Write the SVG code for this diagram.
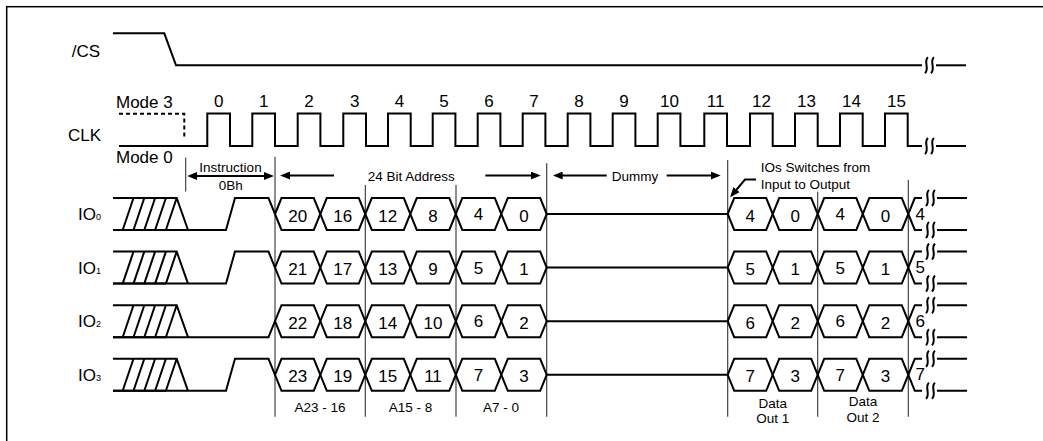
<svg xmlns="http://www.w3.org/2000/svg" xmlns:xlink="http://www.w3.org/1999/xlink" width="1043" height="441" viewBox="0 0 1043 441">
<style>
.sig{fill:none;stroke:#000;stroke-width:2;stroke-linejoin:miter}
.thin{fill:none;stroke:#333;stroke-width:1.1}
.arr{fill:none;stroke:#000;stroke-width:2}
.lbl{font-family:"Liberation Sans",Arial,sans-serif;font-size:17px;fill:#000}
.sm{font-family:"Liberation Sans",Arial,sans-serif;font-size:13.5px;fill:#000}
.mid{text-anchor:middle}
.dg{font-family:"Liberation Sans",Arial,sans-serif;font-size:17px;fill:#000;text-anchor:middle}
</style>
<defs>
<marker id="ah" viewBox="0 0 10 8" refX="7" refY="4" markerWidth="10" markerHeight="8" markerUnits="userSpaceOnUse" orient="auto-start-reverse"><path d="M0,0 L10,4 L0,8 Z" fill="#000"/></marker>
<g id="brk"><path class="sig" d="M-1,-8 C-6,-4 1,3 -4,8 M5,-8 C0,-4 7,3 2,8"/></g>
<g id="hatch"><path class="sig" d="M113,0 H176.7 L188,32 M113,32 H166 M122.7,32 L133.5,0 M133.5,32 L144.3,0 M144.3,32 L155.1,0 M155.1,32 L165.9,0 M165.9,32 L176.7,0"/></g>
<g id="bus">
<path class="sig" d="M275,16 L281.5,0 H313.8 L326.8,32 H358.8 L371.8,0 H403.8 L416.8,32 H449.3 L462.3,0 H494.8 L507.8,32 H540.2 L546.7,16 H727.7 L734.2,0 H766.2 L779.2,32 H811.2 L824.2,0 H856.3 L869.3,32 H901.8 L914.8,0 H922"/>
<path class="sig" d="M275,16 L281.5,32 H313.8 L326.8,0 H358.8 L371.8,32 H403.8 L416.8,0 H449.3 L462.3,32 H494.8 L507.8,0 H540.2 L546.7,16 M727.7,16 L734.2,32 H766.2 L779.2,0 H811.2 L824.2,32 H856.3 L869.3,0 H901.8 L914.8,32 H922"/>
<use xlink:href="#brk" href="#brk" x="930" y="0"/>
<use xlink:href="#brk" href="#brk" x="930" y="32"/>
<path class="sig" d="M937,0 H967 M937,32 H967"/>
</g>
</defs>

<rect x="6.7" y="6.7" width="1100" height="500" fill="none" stroke="#000" stroke-width="1.5"/>

<g id="cs">
<text class="lbl" x="100" y="56.7" text-anchor="end">/CS</text>
<path class="sig" d="M113,33.3 H164.3 L176,65.3 H922"/>
<use xlink:href="#brk" href="#brk" x="929" y="65.3"/>
<path class="sig" d="M936,65.3 H966"/>
</g>

<g id="clk">
<text class="lbl" x="101" y="141" text-anchor="end">CLK</text>
<text class="lbl" x="116" y="108">Mode 3</text>
<text class="lbl" x="116" y="163">Mode 0</text>
<path class="sig" d="M119,113.8 H184.3 V137" stroke-dasharray="4,3"/>
<path class="sig" d="M119,146 H207.3 V113.5 H230 V146 H252.3 V113.5 H275 V146 H297.7 V113.5 H320.4 V146 H343.3 V113.5 H366 V146 H388 V113.5 H410.7 V146 H432.7 V113.5 H455.4 V146 H477.7 V113.5 H500.4 V146 H522.7 V113.5 H545.4 V146 H567.7 V113.5 H590.4 V146 H612.7 V113.5 H635.4 V146 H657.7 V113.5 H680.4 V146 H704.3 V113.5 H727 V146 H750 V113.5 H772.7 V146 H795 V113.5 H817.7 V146 H840 V113.5 H862.7 V146 H885 V113.5 H907.7 V146 H922"/>
<use xlink:href="#brk" href="#brk" x="929" y="146"/>
<path class="sig" d="M936,146 H966"/>
<g class="dg">
<text x="218.7" y="106.5">0</text><text x="263.7" y="106.5">1</text><text x="309" y="106.5">2</text><text x="354.7" y="106.5">3</text>
<text x="399.4" y="106.5">4</text><text x="444" y="106.5">5</text><text x="489" y="106.5">6</text><text x="534" y="106.5">7</text>
<text x="579" y="106.5">8</text><text x="624" y="106.5">9</text><text x="669.5" y="106.5">10</text><text x="715.7" y="106.5">11</text>
<text x="761.4" y="106.5">12</text><text x="806.4" y="106.5">13</text><text x="851.4" y="106.5">14</text><text x="896.4" y="106.5">15</text>
</g>
</g>

<g id="connectors">
<path class="thin" d="M185.7,157.5 V191.5 M275,156.7 V416.7 M365.3,185 V416.7 M456,185 V416.7 M546.7,163.3 V416.7 M727.7,160 V416.7 M817.7,191.7 V416.7 M908.3,180 V416.7"/>
<path class="arr" d="M190.3,176 H271" marker-start="url(#ah)" marker-end="url(#ah)"/>
<path class="arr" d="M334,175.5 H283" marker-end="url(#ah)"/>
<path class="arr" d="M485.3,175.5 H537.7" marker-end="url(#ah)"/>
<path class="arr" d="M606.7,175.5 H555.7" marker-end="url(#ah)"/>
<path class="arr" d="M666.7,175.5 H717.7" marker-end="url(#ah)"/>
<path class="arr" d="M756,179.5 H745 L732,195" marker-end="url(#ah)"/>
</g>

<g id="annotations">
<text class="sm mid" x="230.5" y="171.7">Instruction</text>
<text class="sm mid" x="230.8" y="189.5">0Bh</text>
<text class="sm mid" x="411.3" y="180.5">24 Bit Address</text>
<text class="sm mid" x="635" y="180.5">Dummy</text>
<text class="sm" x="760.7" y="172.3">IOs Switches from</text>
<text class="sm" x="760.7" y="189">Input to Output</text>
<text class="sm mid" x="320" y="411.5">A23 - 16</text>
<text class="sm mid" x="410.5" y="411.5">A15 - 8</text>
<text class="sm mid" x="501" y="411.5">A7 - 0</text>
<text class="sm mid" x="772.7" y="407.5">Data</text>
<text class="sm mid" x="772.7" y="423">Out 1</text>
<text class="sm mid" x="863" y="405.5">Data</text>
<text class="sm mid" x="863" y="421.5">Out 2</text>
</g>

<g id="io0" transform="translate(0,198)">
<text class="lbl" x="101" y="22" text-anchor="end">IO<tspan font-size="9">0</tspan></text>
<use xlink:href="#hatch" href="#hatch"/>
<path class="sig" d="M113,32 H226 L235,0 H268.5 L275,16"/>
<use xlink:href="#bus" href="#bus"/>
<g class="dg"><text x="297.7" y="23.5">20</text><text x="342.8" y="23.5">16</text><text x="387.8" y="23.5">12</text><text x="433" y="23.5">8</text><text x="478.5" y="22">4</text><text x="524" y="23.5">0</text>
<text x="750.2" y="23.5">4</text><text x="795.2" y="23.5">0</text><text x="840.2" y="22">4</text><text x="885.5" y="23.5">0</text><text x="920.3" y="21.5">4</text></g>
</g>

<g id="io1" transform="translate(0,251.6)">
<text class="lbl" x="101" y="22" text-anchor="end">IO<tspan font-size="9">1</tspan></text>
<use xlink:href="#hatch" href="#hatch"/>
<path class="sig" d="M113,32 H226 L235,0 H268.5 L275,16"/>
<use xlink:href="#bus" href="#bus"/>
<g class="dg"><text x="297.7" y="23.5">21</text><text x="342.8" y="23.5">17</text><text x="387.8" y="23.5">13</text><text x="433" y="23.5">9</text><text x="478.5" y="22">5</text><text x="524" y="23.5">1</text>
<text x="750.2" y="23.5">5</text><text x="795.2" y="23.5">1</text><text x="840.2" y="22">5</text><text x="885.5" y="23.5">1</text><text x="920.3" y="21.5">5</text></g>
</g>

<g id="io2" transform="translate(0,305.2)">
<text class="lbl" x="101" y="22" text-anchor="end">IO<tspan font-size="9">2</tspan></text>
<use xlink:href="#hatch" href="#hatch"/>
<path class="sig" d="M113,32 H268.5 L275,16"/>
<use xlink:href="#bus" href="#bus"/>
<g class="dg"><text x="297.7" y="23.5">22</text><text x="342.8" y="23.5">18</text><text x="387.8" y="23.5">14</text><text x="433" y="23.5">10</text><text x="478.5" y="22">6</text><text x="524" y="23.5">2</text>
<text x="750.2" y="23.5">6</text><text x="795.2" y="23.5">2</text><text x="840.2" y="22">6</text><text x="885.5" y="23.5">2</text><text x="920.3" y="21.5">6</text></g>
</g>

<g id="io3" transform="translate(0,358.8)">
<text class="lbl" x="101" y="22" text-anchor="end">IO<tspan font-size="9">3</tspan></text>
<use xlink:href="#hatch" href="#hatch"/>
<path class="sig" d="M113,32 H226 L235,0 H268.5 L275,16"/>
<use xlink:href="#bus" href="#bus"/>
<g class="dg"><text x="297.7" y="23.5">23</text><text x="342.8" y="23.5">19</text><text x="387.8" y="23.5">15</text><text x="433" y="23.5">11</text><text x="478.5" y="22">7</text><text x="524" y="23.5">3</text>
<text x="750.2" y="23.5">7</text><text x="795.2" y="23.5">3</text><text x="840.2" y="22">7</text><text x="885.5" y="23.5">3</text><text x="920.3" y="21.5">7</text></g>
</g>
</svg>
